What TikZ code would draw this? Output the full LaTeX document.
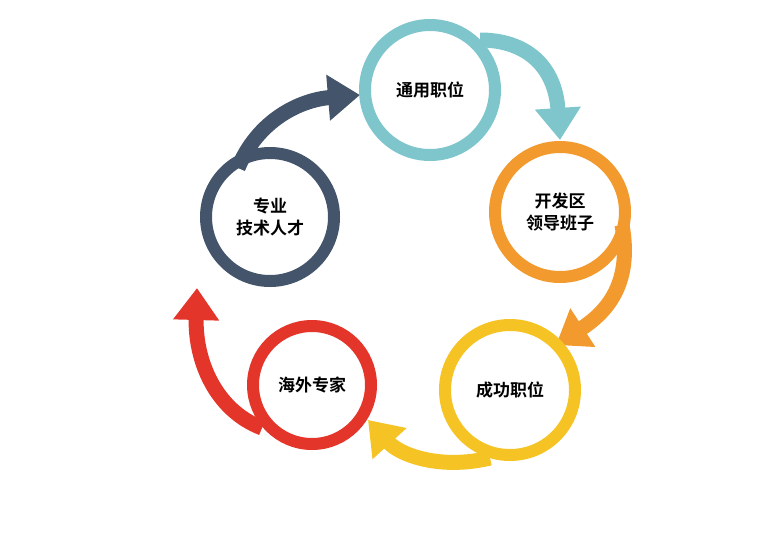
\documentclass[tikz,border=0pt]{standalone}
\usepackage{fontspec}
\newfontfamily\cjk{Noto Sans CJK SC}[BoldFont={Noto Sans CJK SC Bold}]
\usetikzlibrary{arrows.meta}
\definecolor{cteal}{HTML}{7EC6CC}
\definecolor{corange}{HTML}{F29A2E}
\definecolor{cyellow}{HTML}{F5C324}
\definecolor{cred}{HTML}{E4352B}
\definecolor{cdark}{HTML}{44546A}
\begin{document}
\begin{tikzpicture}[x=1pt,y=-1pt,
  ring/.style={circle,line width=12pt,draw=#1,inner sep=0pt,font=\cjk\bfseries\fontsize{17}{22}\selectfont,align=center},
  arr/.style={line width=15pt,draw=#1,-{Triangle[length=32pt,width=44pt]}}]
\useasboundingbox (0,0) rectangle (781,554);
\draw[arr=cteal] (480,40) .. controls (525,40) and (555,65) .. (560,140);
\draw[arr=corange] (622,225) .. controls (632,280) and (610,310) .. (556,345);
\draw[arr=cyellow] (490,458) .. controls (440,470) and (400,455) .. (368,420);
\draw[arr=cred] (262,428) .. controls (215,410) and (195,360) .. (197,288);
\draw[arr=cdark] (238,168) .. controls (258,120) and (300,100) .. (360,95);
\node[ring=cteal,minimum size=130pt] (a) at (430,90) {通用职位};
\node[ring=corange,minimum size=130pt] (b) at (560,212) {开发区\\领导班子};
\node[ring=cyellow,minimum size=130pt] (c) at (510,390) {成功职位};
\node[ring=cred,minimum size=118pt] (d) at (312,385) {海外专家};
\node[ring=cdark,minimum size=128pt] (e) at (270,217) {专业\\技术人才};
\end{tikzpicture}
\end{document}
